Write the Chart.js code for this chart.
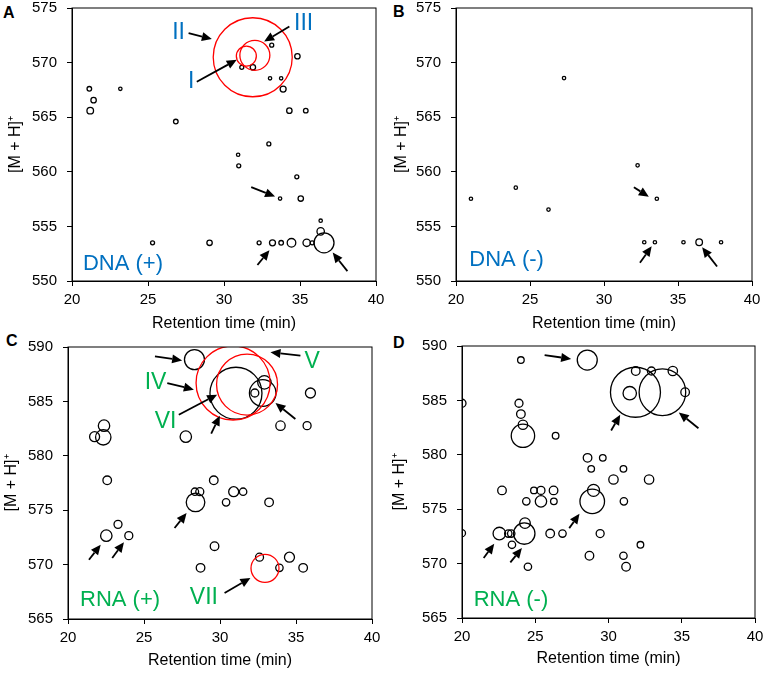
<!DOCTYPE html>
<html>
<head>
<meta charset="utf-8">
<script src="https://cdn.jsdelivr.net/npm/chart.js@4.4.0/dist/chart.umd.min.js"></script>
<style>
body { margin: 0; background: #fff; width: 765px; height: 674px; overflow: hidden; position: relative; }
canvas { position: absolute; }
.tag { position: absolute; font: bold 16px "Liberation Sans", Arial, sans-serif; line-height: 18px; color: #000; }
</style>
</head>
<body>
<div class="tag" style="left:3px;top:4px">A</div>
<div class="tag" style="left:393px;top:3px">B</div>
<div class="tag" style="left:6px;top:332px">C</div>
<div class="tag" style="left:393px;top:334px">D</div>
<canvas id="chartA"></canvas>
<canvas id="chartB"></canvas>
<canvas id="chartC"></canvas>
<canvas id="chartD"></canvas>
<script>
// assen
var timeTicks = [20, 25, 30, 35, 40];
var dnaTicks = [550, 555, 560, 565, 570, 575];
var rnaTicks = [565, 570, 575, 580, 585, 590];

// DNA (+)
var dnaPlusX = [21.14, 21.42, 21.2, 23.18, 26.83, 25.3, 29.05, 31.17, 31.9, 33.14, 34.83, 33.03, 33.76, 33.89, 34.3, 35.38, 32.95, 30.93, 30.97, 34.79, 33.69, 35.05, 36.36, 36.36, 32.31, 33.19, 33.76, 34.44, 35.44, 35.8, 36.58];
var dnaPlusY = [567.6, 566.56, 565.6, 567.6, 564.6, 553.5, 553.5, 569.57, 569.57, 571.6, 570.58, 568.56, 568.56, 567.58, 565.6, 565.6, 562.55, 561.56, 560.55, 559.54, 557.55, 557.55, 555.52, 554.54, 553.5, 553.5, 553.5, 553.5, 553.5, 553.5, 553.5];
var dnaPlusR = [2.3, 2.7, 3.3, 1.7, 2.3, 2.0, 2.7, 2.0, 2.7, 2.0, 2.7, 1.7, 1.7, 3.0, 2.7, 2.3, 2.0, 1.7, 2.0, 2.0, 1.7, 2.7, 1.7, 3.7, 2.0, 3.0, 2.3, 4.3, 3.7, 2.0, 10];
var dnaPlusRedX = [31.47, 31.89, 32.03];
var dnaPlusRedY = [570.6, 570.49, 570.67];
var dnaPlusRedR = [10, 39.5, 15];
var dnaPlusArrows = [[27.67, 572.7, 29.2, 572.15], [34.3, 573.3, 32.64, 571.93], [28.21, 568.25, 30.84, 570.25], [31.79, 558.6, 33.36, 557.73], [32.2, 551.47, 32.99, 552.82], [38.12, 550.9, 37.15, 552.6]];
var dnaPlusNotes = [['II', 27.01, 572.7], ['III', 35.24, 573.56], ['I', 27.85, 568.27]];

// DNA (-)
var dnaMinX = [21.01, 24.04, 26.25, 27.3, 32.27, 33.57, 32.72, 33.44, 35.37, 36.43, 37.91];
var dnaMinY = [557.53, 558.55, 556.54, 568.58, 560.59, 557.53, 553.55, 553.55, 553.55, 553.55, 553.55];
var dnaMinR = [1.7, 1.7, 1.7, 1.7, 1.7, 1.7, 1.7, 1.7, 1.7, 3.3, 1.7];
var dnaMinArrows = [[32.02, 558.58, 33.03, 557.72], [32.43, 551.67, 33.22, 553.18], [37.64, 551.33, 36.63, 553.09]];

// RNA (+)
var rnaPlusX = [28.32, 31.05, 32.81, 32.92, 32.29, 35.95, 33.98, 35.73, 22.37, 21.75, 22.32, 27.75, 22.58, 29.59, 28.35, 28.67, 30.9, 31.52, 28.39, 30.4, 33.23, 23.29, 22.52, 24.0, 29.64, 32.6, 34.57, 28.72, 33.91, 35.47];
var rnaPlusY = [588.84, 585.75, 585.77, 586.75, 585.77, 585.77, 582.77, 582.77, 582.77, 581.76, 581.7, 581.76, 577.75, 577.75, 576.7, 576.7, 576.7, 576.7, 575.72, 575.72, 575.72, 573.7, 572.66, 572.66, 571.69, 570.68, 570.68, 569.7, 569.7, 569.7];
var rnaPlusR = [10, 26, 13.3, 6.7, 4, 5, 4.7, 4, 5.7, 5, 7.7, 5.7, 4.3, 4.3, 3.7, 4, 5, 3.7, 9.3, 3.7, 4.3, 4, 5.7, 4, 4.3, 4, 5, 4.3, 3.7, 4.3];
var rnaPlusRedX = [32.96, 30.86, 31.78];
var rnaPlusRedY = [569.66, 586.69, 586.55];
var rnaPlusRedR = [14, 37, 30.5];
var rnaPlusArrows = [[25.72, 589.14, 27.51, 588.77], [26.53, 586.69, 28.28, 586.08], [35.29, 589.2, 33.32, 589.51], [27.29, 583.78, 29.81, 585.62], [29.42, 582.03, 29.99, 583.69], [34.96, 583.38, 33.65, 584.85], [27.01, 573.36, 27.8, 574.74], [21.38, 570.45, 22.15, 571.83], [22.91, 570.61, 23.68, 572.05], [30.3, 567.39, 32.0, 568.77]];
var rnaPlusNotes = [['IV', 25.76, 586.69], ['V', 36.06, 588.68], ['VI', 26.42, 583.17], ['VII', 28.94, 566.93]];

// RNA (-)
var rnaMinX = [20.0, 20.0, 24.02, 28.55, 31.86, 32.93, 34.39, 31.84, 33.68, 31.45, 35.23, 23.89, 24.02, 24.16, 24.16, 26.39, 28.57, 29.61, 28.82, 31.02, 30.34, 32.77, 22.73, 24.91, 25.39, 26.25, 28.98, 24.39, 25.39, 26.27, 28.89, 31.05, 24.3, 22.55, 23.16, 23.36, 24.25, 26.02, 26.86, 29.43, 23.41, 32.18, 28.7, 31.02, 24.5, 31.2];
var rnaMinY = [584.74, 572.8, 588.71, 588.71, 587.7, 587.7, 587.7, 585.75, 585.75, 585.66, 585.75, 584.74, 583.74, 582.76, 581.75, 581.75, 579.72, 579.72, 578.71, 578.71, 577.73, 577.73, 576.73, 576.73, 576.73, 576.73, 576.73, 575.72, 575.72, 575.72, 575.72, 575.72, 573.72, 572.76, 572.76, 572.76, 572.76, 572.76, 572.76, 572.76, 571.73, 571.73, 570.72, 570.72, 569.71, 569.71];
var rnaMinR = [4, 3.5, 3.3, 10, 4.3, 4, 4.7, 25, 23.3, 6.7, 4.3, 4, 4.3, 4.7, 11.7, 3.3, 4.3, 3.3, 3.3, 3.3, 4.7, 4.7, 4.3, 3.3, 4, 4.3, 6, 3.7, 5.7, 3.3, 12.3, 3.7, 5.3, 6.3, 3.7, 3.7, 10.7, 4.3, 3.7, 4, 3.7, 3.3, 4.3, 3.7, 3.7, 4.3];
var rnaMinArrows = [[25.64, 589.17, 27.45, 588.81], [30.18, 582.23, 30.8, 583.67], [36.14, 582.44, 34.8, 583.88], [27.32, 573.26, 28.02, 574.58], [21.48, 570.51, 22.2, 571.82], [23.3, 570.11, 24.09, 571.43]];

var blue = '#0070C0', green = '#00B050';
Chart.defaults.font.family = '"Liberation Sans", Arial, sans-serif';
Chart.defaults.color = '#000';

function bubbles(xs, ys, rs) {
    var out = [];
    for (var i = 0; i < xs.length; i++) out.push({x: xs[i], y: ys[i], r: rs[i]});
    return out;
}

// kader, pijlen en teksten
var notePlugin = {
    id: 'notes',
    afterDatasetsDraw: function(chart, args, opts) {
        var ctx = chart.ctx, sx = chart.scales.x, sy = chart.scales.y, a = chart.chartArea;
        ctx.save();
        ctx.strokeStyle = '#000';
        ctx.fillStyle = '#000';
        ctx.lineWidth = 1;
        ctx.strokeRect(a.left, a.top, a.right - a.left, a.bottom - a.top);
        (opts.arrows || []).forEach(function(p) {
            var x1 = sx.getPixelForValue(p[0]), y1 = sy.getPixelForValue(p[1]);
            var x2 = sx.getPixelForValue(p[2]), y2 = sy.getPixelForValue(p[3]);
            var ang = Math.atan2(y2 - y1, x2 - x1), hl = 10, hw = 4.5;
            var bx = x2 - hl * Math.cos(ang), by = y2 - hl * Math.sin(ang);
            ctx.lineWidth = 1.8;
            ctx.beginPath();
            ctx.moveTo(x1, y1);
            ctx.lineTo(bx, by);
            ctx.stroke();
            ctx.beginPath();
            ctx.moveTo(x2, y2);
            ctx.lineTo(bx + hw * Math.sin(ang), by - hw * Math.cos(ang));
            ctx.lineTo(bx - hw * Math.sin(ang), by + hw * Math.cos(ang));
            ctx.closePath();
            ctx.fill();
        });
        ctx.fillStyle = opts.color;
        ctx.font = '23px "Liberation Sans", Arial, sans-serif';
        ctx.textAlign = 'center';
        ctx.textBaseline = 'middle';
        (opts.notes || []).forEach(function(n) {
            ctx.fillText(n[0], sx.getPixelForValue(n[1]), sy.getPixelForValue(n[2]));
        });
        ctx.font = '22px "Liberation Sans", Arial, sans-serif';
        ctx.textAlign = 'left';
        ctx.fillText(opts.name[0], sx.getPixelForValue(opts.name[1]), sy.getPixelForValue(opts.name[2]));
        ctx.restore();
    }
};

// plotvlak op vaste plek: canvas rond L,T,R,B
function makePanel(p) {
    var cv = document.getElementById(p.id);
    var w = p.yw + (p.R - p.L) + 20, h = 20 + (p.B - p.T) + p.xh;
    cv.width = w; cv.height = h;
    cv.style.width = w + 'px'; cv.style.height = h + 'px';
    cv.style.left = (p.L - p.yw) + 'px';
    cv.style.top = (p.T - 20) + 'px';
    var sets = [];
    if (p.red) sets.push({data: p.red, borderColor: '#FF0000', backgroundColor: 'rgba(0,0,0,0)', borderWidth: 1.3, clip: 0});
    sets.push({data: p.black, borderColor: '#000', backgroundColor: 'rgba(0,0,0,0)', borderWidth: 1.3, clip: 0});
    return new Chart(cv, {
        type: 'bubble',
        data: {datasets: sets},
        options: {
            responsive: false,
            animation: false,
            events: [],
            layout: {autoPadding: false, padding: {left: 0, top: 20, right: 20, bottom: 0}},
            plugins: {
                legend: {display: false},
                tooltip: {enabled: false},
                notes: {arrows: p.arrows, notes: p.notes, name: p.name, color: p.color}
            },
            scales: {
                x: {
                    type: 'linear', min: 20, max: 40,
                    afterBuildTicks: function(s) { s.ticks = timeTicks.map(function(v) { return {value: v}; }); },
                    afterFit: function(s) { s.height = p.xh; },
                    grid: {drawOnChartArea: false, drawTicks: true, tickLength: 5, color: '#000'},
                    border: {color: '#000', width: 1},
                    ticks: {font: {size: 15}, padding: 5, color: '#000'},
                    title: {display: true, text: 'Retention time (min)', font: {size: 16}, padding: {top: 0, bottom: 4}, color: '#000'}
                },
                y: {
                    type: 'linear', min: p.ticks[0], max: p.ticks[p.ticks.length - 1],
                    afterBuildTicks: function(s) { s.ticks = p.ticks.map(function(v) { return {value: v}; }); },
                    afterFit: function(s) { s.width = p.yw; },
                    grid: {drawOnChartArea: false, drawTicks: true, tickLength: 5, color: '#000'},
                    border: {color: '#000', width: 1},
                    ticks: {font: {size: 15}, padding: 10, color: '#000'},
                    title: {display: true, text: '[M + H]\u207A', font: {size: 16}, padding: {top: 6, bottom: 0}, color: '#000'}
                }
            }
        },
        plugins: [notePlugin]
    });
}

makePanel({id: 'chartA', L: 72, T: 8, R: 376, B: 281, yw: 72, xh: 56, ticks: dnaTicks,
    black: bubbles(dnaPlusX, dnaPlusY, dnaPlusR), red: bubbles(dnaPlusRedX, dnaPlusRedY, dnaPlusRedR),
    arrows: dnaPlusArrows, notes: dnaPlusNotes, name: ['DNA (+)', 20.72, 551.6], color: blue});
makePanel({id: 'chartB', L: 456, T: 8, R: 752, B: 281, yw: 70, xh: 56, ticks: dnaTicks,
    black: bubbles(dnaMinX, dnaMinY, dnaMinR),
    arrows: dnaMinArrows, notes: [], name: ['DNA (-)', 20.9, 551.9], color: blue});
makePanel({id: 'chartC', L: 68, T: 347, R: 372, B: 619, yw: 72, xh: 55, ticks: rnaTicks,
    black: bubbles(rnaPlusX, rnaPlusY, rnaPlusR), red: bubbles(rnaPlusRedX, rnaPlusRedY, rnaPlusRedR),
    arrows: rnaPlusArrows, notes: rnaPlusNotes, name: ['RNA (+)', 20.79, 566.78], color: green});
makePanel({id: 'chartD', L: 462, T: 346, R: 755, B: 618, yw: 78, xh: 54, ticks: rnaTicks,
    black: bubbles(rnaMinX, rnaMinY, rnaMinR),
    arrows: rnaMinArrows, notes: [], name: ['RNA (-)', 20.8, 566.68], color: green});
</script>
</body>
</html>
